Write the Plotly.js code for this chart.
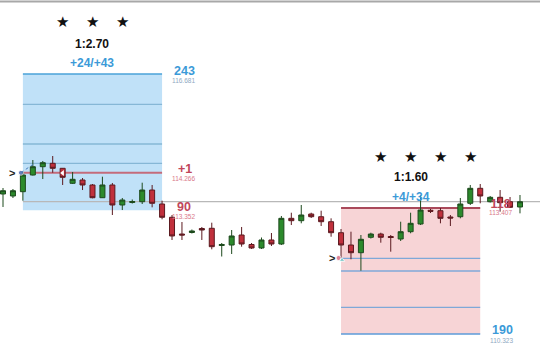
<!DOCTYPE html>
<html>
<head>
<meta charset="utf-8">
<script src="https://cdn.plot.ly/plotly-3.0.1.min.js"></script>
<style>
  html, body { margin: 0; padding: 0; background: #ffffff; }
  #chart { width: 540px; height: 358px; }
</style>
</head>
<body>
<div id="chart"></div>
<script>
// ---- price bars (one per period) ----
const bars  = [0,1,2,3,4,5,6,7,8,9,10,11,12,13,14,15,16,17,18,19,20,21,22,23,24,25,26,
               27,28,29,30,31,32,33,34,35,36,37,38,39,40,41,42,43,44,45,46,47,48,49,50,51,52];
const open  = [113.747,113.698,113.803,114.211,114.414,114.497,114.375,114.008,114.089,113.967,
               113.656,113.967,113.478,113.539,113.558,113.844,113.502,113.177,112.768,112.805,
               112.903,112.908,112.487,112.499,112.744,112.512,112.426,112.622,112.524,113.152,
               113.094,113.257,113.191,113.069,112.800,112.499,112.311,112.688,112.768,112.707,
               112.646,112.825,113.013,113.348,113.338,113.184,113.191,113.519,113.886,113.558,
               113.666,113.558,113.429];
const high  = [113.893,113.869,114.292,114.578,114.554,114.676,114.382,114.285,114.138,113.991,
               114.170,114.016,113.649,113.612,114.023,113.967,113.583,113.233,113.062,112.878,
               112.940,113.045,112.548,112.866,112.940,112.548,112.683,112.793,113.209,113.289,
               113.478,113.289,113.338,113.152,112.891,112.825,112.744,112.800,112.800,112.744,
               113.069,113.289,113.722,113.380,113.404,113.233,113.649,113.967,113.991,113.698,
               113.844,113.673,113.722];
const low   = [113.429,113.649,113.583,114.199,114.113,114.267,113.967,113.991,113.844,113.641,
               113.649,113.233,113.355,113.514,113.502,113.421,113.128,112.622,112.622,112.781,
               112.622,112.394,112.218,112.279,112.458,112.402,112.402,112.475,112.499,112.988,
               113.030,113.160,112.964,112.702,112.182,112.150,111.871,112.658,112.556,112.336,
               112.597,112.786,112.988,113.282,113.030,112.964,113.152,113.478,113.519,113.539,
               113.314,113.404,113.274];
const close = [113.827,113.827,114.211,114.414,114.512,114.375,114.155,114.106,113.967,113.656,
               113.967,113.478,113.600,113.563,113.844,113.519,113.177,112.720,112.744,112.842,
               112.866,112.458,112.512,112.720,112.524,112.426,112.622,112.524,113.152,113.094,
               113.233,113.191,113.069,112.800,112.499,112.311,112.639,112.768,112.688,112.683,
               112.825,113.030,113.355,113.323,113.152,113.160,113.502,113.886,113.698,113.666,
               113.534,113.421,113.558];

// ---- trade A (long): entry bar range and price levels ----
const spanA      = [2, 16];
const levelsA    = [116.681, 115.940, 114.969, 114.497];   // target and grid lines
const entryA     = 114.266;
const stopA      = 113.352;
const ratioA     = "1:2.70";
const pipsA      = "+24/+43";
const starsA     = [6, 9, 12];
const tagsA      = ["243", "+1", "90"];

// ---- trade B (short): entry bar range and price levels ----
const spanB      = [34, 48];
const levelsB    = [112.174, 111.864, 110.976];           // grid lines
const targetB    = 110.323;
const stopB      = 113.407;
const ratioB     = "1:1.60";
const pipsB      = "+4/+34";
const starsB     = [38, 41, 44, 47];
const tagsB      = ["118", "190"];

const lastPrice  = 113.560;

// ---- layout helpers ----
const W = 540, H = 358;
const Y_RANGE = [109.736, 118.491];
const X_RANGE = [-0.302, 54.013];
const FONT = "Arial, 'Liberation Sans', sans-serif";

const BLUE_TXT = "#3b9ad8", RED_TXT = "#c1465a", SMALL_BLUE = "#8fa9c2", SMALL_RED = "#d9788a";

function note(text, x, y, size, color, bold, xanchor, yanchor, family) {
  return {
    text: bold ? "<b>" + text + "</b>" : text,
    x: x, y: y, xref: "x", yref: "y",
    xanchor: xanchor || "center", yanchor: yanchor || "middle",
    showarrow: false,
    font: { family: family || FONT, size: size, color: color }
  };
}
// one plot pixel expressed in price units
const pxPrice = (Y_RANGE[1] - Y_RANGE[0]) / H;

const shapes = [];
function hline(x0, x1, y, color, width, dash) {
  shapes.push({ type: "line", xref: "x", yref: "y", x0: x0, x1: x1, y0: y, y1: y,
                line: { color: color, width: width, dash: dash || "solid" }, layer: "below" });
}

// trade A box
shapes.push({ type: "rect", xref: "x", yref: "y", x0: spanA[0], x1: spanA[1], y0: stopA, y1: levelsA[0],
              fillcolor: "#c0e1f8", line: { width: 0 }, layer: "below" });
hline(spanA[0], spanA[1], levelsA[0], "#4aa2d8", 1.6);
levelsA.slice(1).forEach(v => hline(spanA[0], spanA[1], v, "#86b7d6", 1.3));
hline(spanA[0], spanA[1], entryA, "#c46b7b", 2);

// trade B box
shapes.push({ type: "rect", xref: "x", yref: "y", x0: spanB[0], x1: spanB[1], y0: targetB, y1: stopB,
              fillcolor: "#f7d4d6", line: { width: 0 }, layer: "below" });
hline(spanB[0], spanB[1], stopB, "#a9495a", 2);
levelsB.forEach(v => hline(spanB[0], spanB[1], v, "#7fa8d8", 1.3));
hline(spanB[0], spanB[1], targetB, "#5c9bd8", 1.6);

// last price line
hline(spanA[0], X_RANGE[1], lastPrice, "#b8b8b8", 1.4);

// frame line along the top
shapes.push({ type: "line", xref: "paper", yref: "paper", x0: 0, x1: 1, y0: 1 - 1.5 / H, y1: 1 - 1.5 / H,
              line: { color: "#a8a8a8", width: 2 } });

// entry connector (dotted)
shapes.push({ type: "line", xref: "x", yref: "y", x0: 1.8, y0: entryA, x1: 3.0, y1: 114.47,
              line: { color: "#4a7fc0", width: 1, dash: "dot" } });

const annotations = [];
// trade A texts
starsA.forEach(i => annotations.push(note("★", i, Y_RANGE[1] - 21.5 * pxPrice, 15, "#111", false, "center", "middle", "DejaVu Sans")));
annotations.push(note(ratioA, starsA[1], Y_RANGE[1] - 43.5 * pxPrice, 12, "#111", true));
annotations.push(note(pipsA, starsA[1], Y_RANGE[1] - 62.5 * pxPrice, 12, BLUE_TXT, true));
annotations.push(note(tagsA[0], spanA[1] + 1, levelsA[0] + 3 * pxPrice, 12.5, BLUE_TXT, true, "left"));
annotations.push(note(levelsA[0].toFixed(3), spanA[1] + 0.8, levelsA[0] - 6 * pxPrice, 6.5, SMALL_BLUE, false, "left"));
annotations.push(note(tagsA[1], spanA[1] + 1.4, entryA + 3.5 * pxPrice, 12.5, RED_TXT, true, "left"));
annotations.push(note(entryA.toFixed(3), spanA[1] + 0.8, entryA - 5.8 * pxPrice, 6.5, SMALL_RED, false, "left"));
annotations.push(note(tagsA[2], spanA[1] + 1.3, stopA + 3.3 * pxPrice, 12.5, RED_TXT, true, "left"));
annotations.push(note(stopA.toFixed(3), spanA[1] + 0.8, stopA - 6.2 * pxPrice, 6.5, SMALL_RED, false, "left"));

// trade B texts
starsB.forEach(i => annotations.push(note("★", i, Y_RANGE[1] - 156.5 * pxPrice, 15, "#111", false, "center", "middle", "DejaVu Sans")));
annotations.push(note(ratioB, (starsB[1] + starsB[2]) / 2 - 1.45, Y_RANGE[1] - 177 * pxPrice, 12, "#111", true));
annotations.push(note(pipsB, (starsB[1] + starsB[2]) / 2 - 1.45, Y_RANGE[1] - 196.5 * pxPrice, 12, BLUE_TXT, true));
annotations.push(note(tagsB[1], spanB[1] + 1.0, targetB + 3.8 * pxPrice, 12.5, BLUE_TXT, true, "left"));
annotations.push(note(targetB.toFixed(3), spanB[1] + 0.8, targetB - 6.5 * pxPrice, 6.5, SMALL_BLUE, false, "left"));

// entry arrows
annotations.push(note("&gt;", 0.95, entryA, 11, "#222", true));
annotations.push(note("&gt;", 33.1, 112.182, 11, "#222", true));

const traces = [
  // stop tag of trade B sits beneath the bars
  {
    type: "scatter", mode: "text", hoverinfo: "skip", showlegend: false,
    x: [spanB[1] + 2.05, spanB[1] + 2.05],
    y: [stopB + 3.5 * pxPrice, stopB - 5.8 * pxPrice],
    text: ["<b>" + tagsB[0] + "</b>", stopB.toFixed(3)],
    textfont: { family: FONT, size: [12.5, 6.5], color: [RED_TXT, SMALL_RED] },
    textposition: "middle center"
  },
  {
    type: "candlestick", x: bars, open: open, high: high, low: low, close: close,
    increasing: { line: { color: "#1d4a1d", width: 1 }, fillcolor: "#2c8a2c" },
    decreasing: { line: { color: "#5c1a20", width: 1 }, fillcolor: "#c0303c" },
    whiskerwidth: 0, hoverinfo: "skip", showlegend: false
  },
  // entry markers
  {
    type: "scatter", mode: "markers", hoverinfo: "skip", showlegend: false,
    x: [1.8, 33.75, 34.1], y: [entryA, 112.182, 112.13],
    marker: { size: [5, 5, 5], color: ["#2a4aa0", "#d0506a", "#4ac8c8"],
              symbol: ["circle", "circle", "triangle-up"] }
  },
  {
    type: "scatter", mode: "markers", hoverinfo: "skip", showlegend: false,
    x: [6], y: [114.26],
    marker: { size: 5, color: "#ffffff", symbol: "triangle-left" }
  }
];

const layout = {
  width: W, height: H,
  margin: { l: 0, r: 0, t: 0, b: 0 },
  paper_bgcolor: "#ffffff", plot_bgcolor: "#ffffff",
  showlegend: false,
  boxgap: 0.28,
  xaxis: { range: X_RANGE, visible: false, fixedrange: true, rangeslider: { visible: false } },
  yaxis: { range: Y_RANGE, visible: false, fixedrange: true },
  shapes: shapes,
  annotations: annotations
};

Plotly.newPlot("chart", traces, layout, { staticPlot: true, displayModeBar: false });
</script>
</body>
</html>
